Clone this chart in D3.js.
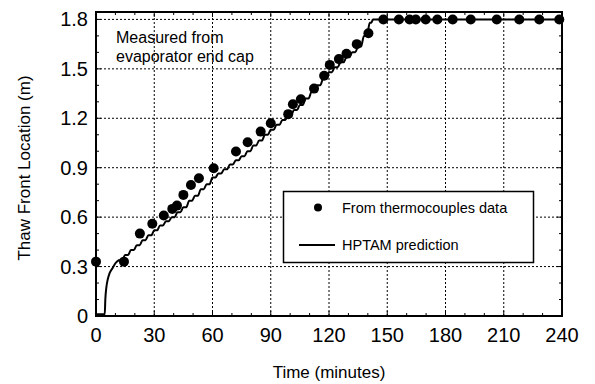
<!DOCTYPE html>
<html lang='en'>
<head>
   <meta charset='UTF-8'>
   <title>Thaw front location</title>
   <script src='https://d3js.org/d3.v7.min.js'></script>
   <style>
      body { margin: 0; background: #fff; }
      svg { display: block; font-family: 'Liberation Sans', Arial, sans-serif; }
   </style>
</head>
<body>
   <div id='svg-container'></div>
   <script>
      // thermocouple measurements (time in minutes, thaw front in m)
      const measTime = [0, 14.4, 22.6, 29, 34.9, 39.3, 41.7, 45, 48.9, 53, 60.6, 72.1, 78.1, 84.8, 90, 99,
         101.4, 105.5, 112.3, 117.5, 120.4, 125.1, 129, 134.3, 140.3,
         148, 156, 161.5, 164.7, 169.8, 175.8, 183.7, 193, 206.4, 218, 228.3, 238.6];
      const measThaw = [0.33, 0.33, 0.50, 0.56, 0.61, 0.65, 0.67, 0.735, 0.795, 0.836, 0.897, 0.998, 1.055, 1.119, 1.17, 1.225,
         1.285, 1.316, 1.38, 1.458, 1.524, 1.559, 1.592, 1.65, 1.716,
         1.8, 1.8, 1.8, 1.8, 1.8, 1.8, 1.8, 1.8, 1.8, 1.8, 1.8, 1.8];

      // HPTAM prediction: start-up part
      const startTime = [0, 4.5, 4.8, 5.3, 6, 7, 8.5, 10, 12];
      const startThaw = [0.01, 0.01, 0.1, 0.17, 0.22, 0.26, 0.29, 0.32, 0.34];
      // HPTAM prediction: stepped growth part (every 3 min)
      const stepTime = [12, 15, 18, 21, 24, 27, 30, 33, 36, 39, 42, 45, 48, 51, 54, 57, 60, 63, 66, 69, 72, 75, 78,
         81, 84, 87, 90, 93, 96, 99, 102, 105, 108, 111, 114, 117, 120, 123, 126, 129, 132, 135, 138, 141, 142.5];
      const stepThaw = [0.34, 0.37, 0.40, 0.43, 0.46, 0.49, 0.52, 0.55, 0.575, 0.60, 0.63, 0.66, 0.70, 0.73, 0.77, 0.80,
         0.84, 0.865, 0.89, 0.92, 0.945, 0.97, 1.00, 1.035, 1.065, 1.10, 1.13, 1.16, 1.19, 1.22, 1.25, 1.28, 1.32,
         1.36, 1.40, 1.44, 1.48, 1.51, 1.54, 1.57, 1.60, 1.635, 1.70, 1.78, 1.8];
      const plateauTime = [142.5, 240];
      const plateauThaw = [1.8, 1.8];

      const xTicks = [0, 30, 60, 90, 120, 150, 180, 210, 240];
      const yTicks = [0, 0.3, 0.6, 0.9, 1.2, 1.5, 1.8];

      const W = 595, H = 384;
      const margins = { left: 96, right: 33, top: 12, bottom: 68 };

      const svg = d3.select('#svg-container').append('svg').attr('width', W).attr('height', H);

      const x = d3.scaleLinear().domain([0, 240]).range([margins.left, W - margins.right]);
      const y = d3.scaleLinear().domain([0, 1.845]).range([H - margins.bottom, margins.top]);

      const x0 = x.range()[0], x1 = x.range()[1], y0 = y.range()[0], y1 = y.range()[1];

      // grid (dotted)
      const grid = svg.append('g').attr('stroke', '#000').attr('stroke-width', 1).attr('stroke-dasharray', '2,2');
      grid.selectAll('.gx').data(xTicks.slice(1, -1)).join('line')
         .attr('x1', d => x(d)).attr('x2', d => x(d)).attr('y1', y0).attr('y2', y1);
      grid.selectAll('.gy').data(yTicks.slice(1)).join('line')
         .attr('x1', x0).attr('x2', x1).attr('y1', d => y(d)).attr('y2', d => y(d));

      // ticks, inward on all four sides
      const minorX = d3.range(0, 241, 10), minorY = d3.range(0, 1.81, 0.1);
      const tk = svg.append('g').attr('stroke', '#000').attr('stroke-width', 1);
      minorX.forEach(v => {
         const len = v % 30 === 0 ? 5 : 3;
         tk.append('line').attr('x1', x(v)).attr('x2', x(v)).attr('y1', y0).attr('y2', y0 - len);
         tk.append('line').attr('x1', x(v)).attr('x2', x(v)).attr('y1', y1).attr('y2', y1 + len);
      });
      minorY.forEach((v, i) => {
         const len = i % 3 === 0 ? 5 : 3;
         tk.append('line').attr('x1', x0).attr('x2', x0 + len).attr('y1', y(v)).attr('y2', y(v));
         tk.append('line').attr('x1', x1).attr('x2', x1 - len).attr('y1', y(v)).attr('y2', y(v));
      });

      // tick labels
      svg.append('g').selectAll('text').data(xTicks).join('text')
         .attr('x', d => x(d)).attr('y', y0 + 26).attr('text-anchor', 'middle')
         .attr('font-size', 20).text(d => d);
      svg.append('g').selectAll('text').data(yTicks).join('text')
         .attr('x', x0 - 8).attr('y', d => y(d) + 7).attr('text-anchor', 'end')
         .attr('font-size', 20).text(d => d === 0 ? '0' : d.toFixed(1));

      // axis titles
      svg.append('text').attr('x', (x0 + x1) / 2).attr('y', 378).attr('text-anchor', 'middle')
         .attr('font-size', 17).text('Time (minutes)');
      svg.append('text').attr('transform', `translate(30, ${(y0 + y1) / 2 + 4}) rotate(-90)`)
         .attr('text-anchor', 'middle').attr('font-size', 17).text('Thaw Front Location (m)');

      // prediction line
      const stepPts = [];
      for (let i = 0; i < stepTime.length - 1; i++) {
         stepPts.push([stepTime[i], stepThaw[i]]);
         stepPts.push([(stepTime[i] + stepTime[i + 1]) / 2, stepThaw[i]]);
      }
      stepPts.push([stepTime[stepTime.length - 1], stepThaw[stepThaw.length - 1]]);
      const startPts = startTime.map((t, i) => [t, startThaw[i]]);
      const plateauPts = plateauTime.map((t, i) => [t, plateauThaw[i]]);

      const lineMono = d3.line().x(d => x(d[0])).y(d => y(d[1])).curve(d3.curveMonotoneX);
      const lineStraight = d3.line().x(d => x(d[0])).y(d => y(d[1]));
      const lg = svg.append('g').attr('fill', 'none').attr('stroke', '#000').attr('stroke-width', 2);
      lg.append('path').attr('d', lineMono(startPts));
      lg.append('path').attr('d', lineMono(stepPts));
      lg.append('path').attr('d', lineStraight(plateauPts));

      // measured points
      svg.append('g').selectAll('circle').data(measTime).join('circle')
         .attr('cx', d => x(d)).attr('cy', (d, i) => y(measThaw[i])).attr('r', 5).attr('fill', '#000');

      // frame
      svg.append('rect').attr('x', x0).attr('y', y1).attr('width', x1 - x0).attr('height', y0 - y1)
         .attr('fill', 'none').attr('stroke', '#000').attr('stroke-width', 2);

      // annotation
      const note = svg.append('text').attr('font-size', 16).attr('x', 116);
      note.append('tspan').attr('x', 116).attr('y', 43).text('Measured from');
      note.append('tspan').attr('x', 116).attr('y', 62).text('evaporator end cap');

      // legend
      const leg = svg.append('g');
      leg.append('rect').attr('x', 283.5).attr('y', 191.5).attr('width', 250).attr('height', 71)
         .attr('fill', '#fff').attr('stroke', '#000').attr('stroke-width', 1.5);
      leg.append('circle').attr('cx', 318).attr('cy', 207.5).attr('r', 4).attr('fill', '#000');
      leg.append('line').attr('x1', 299).attr('x2', 335).attr('y1', 245).attr('y2', 245)
         .attr('stroke', '#000').attr('stroke-width', 2);
      leg.append('text').attr('x', 342).attr('y', 212.5).attr('font-size', 14.5).text('From thermocouples data');
      leg.append('text').attr('x', 342).attr('y', 250).attr('font-size', 14.5).text('HPTAM prediction');
   </script>
</body>
</html>
